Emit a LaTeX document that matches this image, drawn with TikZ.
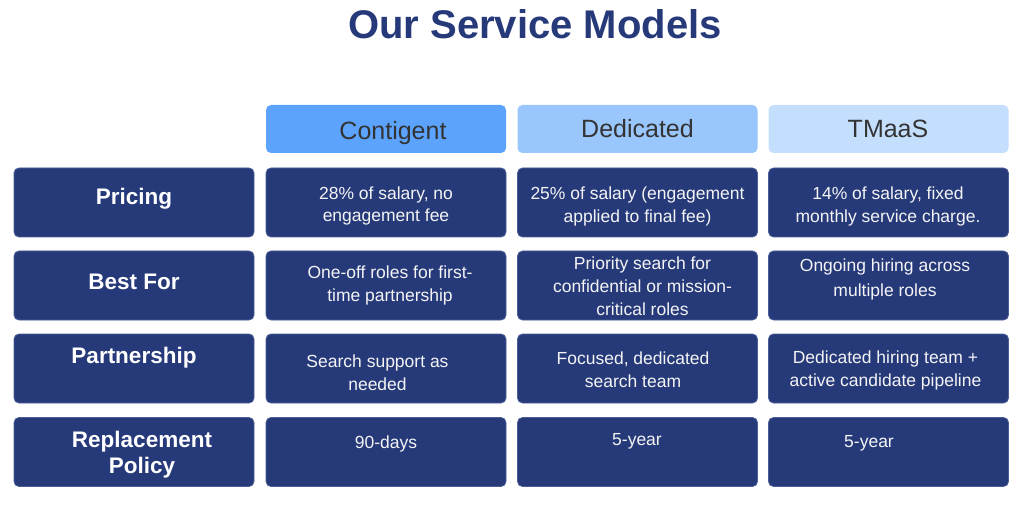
\documentclass[tikz,border=0pt]{standalone}
\usepackage{fontspec}
\setmainfont{Liberation Sans}
\definecolor{navy}{HTML}{263A7A}
\definecolor{navyedge}{HTML}{4C5E98}
\definecolor{hdrA}{HTML}{5CA3FD}
\definecolor{hdrB}{HTML}{99C6FC}
\definecolor{hdrC}{HTML}{C4DEFD}
\definecolor{hdrtext}{HTML}{333333}
\definecolor{celltext}{HTML}{F4F4F4}
\begin{document}
\begin{tikzpicture}[x=1pt,y=-1pt,
  cell/.style={draw=navyedge, line width=0.8pt, fill=navy, rounded corners=5pt,
    minimum width=240pt, minimum height=69pt, inner sep=0pt, outer sep=0pt},
  hdr/.style={rounded corners=5pt, minimum width=240pt, minimum height=48pt,
    inner sep=0pt, outer sep=0pt},
  hdrlabel/.style={anchor=base, inner sep=0pt, text=hdrtext,
    font=\fontsize{25}{30}\selectfont},
  rowlabel/.style={anchor=base, inner sep=0pt, text=white,
    font=\fontsize{22.5}{26}\selectfont\bfseries},
  body/.style={anchor=base, inner sep=0pt, text=celltext,
    font=\fontsize{17.5}{23}\selectfont},
  titlestyle/.style={anchor=base, inner sep=0pt, text=navy,
    font=\fontsize{40}{46}\selectfont\bfseries}
]
\useasboundingbox[fill=white] (0,0) rectangle (1024,510);

% title
\node[titlestyle] (title) at (535,39) {Our Service Models};

% header boxes
\node[hdr, fill=hdrA] (h1) at (386,129) {};
\node[hdr, fill=hdrB] (h2) at (637.5,129) {};
\node[hdr, fill=hdrC] (h3) at (888.5,129) {};
\node[hdrlabel] (h1t) at (393,140) {Contigent};
\node[hdrlabel] (h2t) at (637.5,138) {Dedicated};
\node[hdrlabel] (h3t) at (888,138) {TMaaS};

% row label boxes
\node[cell] (l1) at (134,202.5) {};
\node[cell] (l2) at (134,285.5) {};
\node[cell] (l3) at (134,368.5) {};
\node[cell] (l4) at (134,452) {};
% body boxes
\node[cell] (c11) at (386,202.5) {};
\node[cell] (c12) at (637.5,202.5) {};
\node[cell] (c13) at (888.5,202.5) {};
\node[cell] (c21) at (386,285.5) {};
\node[cell] (c22) at (637.5,285.5) {};
\node[cell] (c23) at (888.5,285.5) {};
\node[cell] (c31) at (386,368.5) {};
\node[cell] (c32) at (637.5,368.5) {};
\node[cell] (c33) at (888.5,368.5) {};
\node[cell] (c41) at (386,452) {};
\node[cell] (c42) at (637.5,452) {};
\node[cell] (c43) at (888.5,452) {};

% row labels
\node[rowlabel] (l1t) at (134,205) {Pricing};
\node[rowlabel] (l2t) at (134,290) {Best For};
\node[rowlabel] (l3t) at (134,363) {Partnership};
\node[rowlabel] (l4ta) at (142,447) {Replacement};
\node[rowlabel] (l4tb) at (142,473) {Policy};

% row 1
\node[body] (t11a) at (386,199.5) {28\% of salary, no};
\node[body] (t11b) at (386,222) {engagement fee};
\node[body] (t12a) at (637.5,200) {25\% of salary (engagement};
\node[body] (t12b) at (637.5,222.5) {applied to final fee)};
\node[body] (t13a) at (888,200) {14\% of salary, fixed};
\node[body] (t13b) at (888,222.5) {monthly service charge.};

% row 2
\node[body] (t21a) at (390,278.3) {One-off roles for first-};
\node[body] (t21b) at (390,301.7) {time partnership};
\node[body] (t22a) at (642.5,270) {Priority search for};
\node[body] (t22b) at (642.5,293) {confidential or mission-};
\node[body] (t22c) at (642.5,316) {critical roles};
\node[body] (t23a) at (885,272) {Ongoing hiring across};
\node[body] (t23b) at (885,296) {multiple roles};

% row 3
\node[body] (t31a) at (377.5,367.7) {Search support as};
\node[body] (t31b) at (377.5,390) {needed};
\node[body] (t32a) at (633,364) {Focused, dedicated};
\node[body] (t32b) at (633,387.7) {search team};
\node[body] (t33a) at (885.5,363) {Dedicated hiring team +};
\node[body] (t33b) at (885.5,386.7) {active candidate pipeline};

% row 4
\node[body] (t41) at (386,448) {90-days};
\node[body] (t42) at (637,445.7) {5-year};
\node[body] (t43) at (869,447) {5-year};
\end{tikzpicture}
\end{document}
